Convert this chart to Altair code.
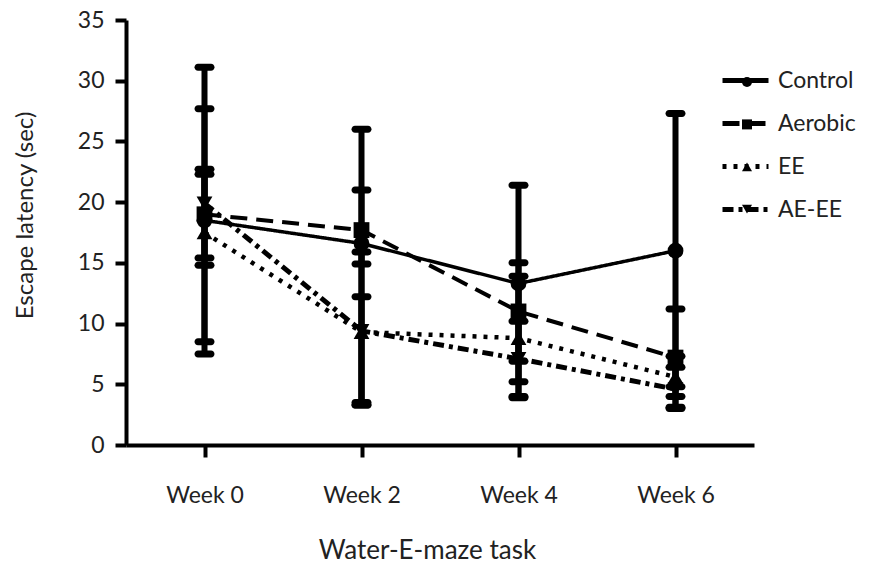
import altair as alt
import pandas as pd

weeks = ["Week 0", "Week 2", "Week 4", "Week 6"]
groups = ["Control", "Aerobic", "EE", "AE-EE"]

control_mean = [18.5, 16.6, 13.3, 16.0]
control_hi = [22.3, 26.0, 21.4, 27.3]
control_lo = [14.8, 3.5, 5.2, 4.8]

aerobic_mean = [19.0, 17.7, 11.0, 7.2]
aerobic_hi = [22.7, 21.0, 15.0, 11.2]
aerobic_lo = [15.4, 14.9, 6.9, 3.1]

ee_mean = [17.5, 9.3, 8.8, 5.6]
ee_hi = [27.7, 15.9, 13.9, 7.3]
ee_lo = [7.5, 3.3, 3.9, 4.0]

aeee_mean = [19.9, 9.4, 7.1, 4.6]
aeee_hi = [31.1, 12.2, 10.2, 6.4]
aeee_lo = [8.5, 3.3, 4.0, 3.0]

series = {
    "Control": (control_mean, control_hi, control_lo),
    "Aerobic": (aerobic_mean, aerobic_hi, aerobic_lo),
    "EE": (ee_mean, ee_hi, ee_lo),
    "AE-EE": (aeee_mean, aeee_hi, aeee_lo),
}

rows = []
for g in groups:
    m, hi, lo = series[g]
    for i, w in enumerate(weeks):
        rows.append({"week": w, "group": g, "g2": g, "mean": m[i], "hi": hi[i], "lo": lo[i]})
df = pd.DataFrame(rows)

FONT = "Lato"
FS = 23
TEXT = "#222222"

x_enc = alt.X(
    "week:N",
    sort=weeks,
    scale=alt.Scale(type="point", padding=0.5),
    axis=alt.Axis(
        title="Water-E-maze task",
        labelAngle=0,
        tickSize=12,
        tickWidth=4,
        domainWidth=4,
        labelPadding=27,
        titlePadding=30,
        titleX=301,
        titleFontSize=26,
    ),
)
y_scale = alt.Scale(domain=[0, 35], nice=False, zero=True)
y_axis = alt.Axis(
    title="Escape latency (sec)",
    values=[0, 5, 10, 15, 20, 25, 30, 35],
    tickSize=11,
    tickWidth=4,
    domainWidth=4,
    labelPadding=11,
    titlePadding=40,
    titleY=195,
    titleFontSize=24,
    grid=False,
)

base = alt.Chart(df)

bars = base.mark_rule(color="black", strokeWidth=6).encode(
    x=x_enc,
    y=alt.Y("lo:Q", scale=y_scale, axis=y_axis),
    y2="hi:Q",
)
caps_hi = base.mark_tick(color="black", size=20, thickness=7, cornerRadius=3.5, opacity=1).encode(
    x=alt.X("week:N", sort=weeks), y=alt.Y("hi:Q")
)
caps_lo = base.mark_tick(color="black", size=20, thickness=7, cornerRadius=3.5, opacity=1).encode(
    x=alt.X("week:N", sort=weeks), y=alt.Y("lo:Q")
)

lines = base.mark_line(color="black").encode(
    x=alt.X("week:N", sort=weeks),
    y=alt.Y("mean:Q"),
    strokeDash=alt.StrokeDash(
        "group:N",
        scale=alt.Scale(domain=groups, range=[[1, 0], [17, 9], [4, 7], [11, 5, 4, 5]]),
        legend=alt.Legend(
            title=None,
            orient="none",
            legendX=594,
            legendY=35,
            symbolType="stroke",
            symbolSize=2116,
            symbolStrokeWidth=5,
            symbolStrokeColor="black",
            labelFontSize=FS,
            labelFont=FONT,
            labelColor=TEXT,
            labelOffset=7,
            rowPadding=5,
        ),
    ),
    strokeWidth=alt.StrokeWidth(
        "group:N",
        scale=alt.Scale(domain=groups, range=[3.5, 5, 4, 4]),
        legend=None,
    ),
)

points = base.mark_point(filled=True, color="black", size=250, opacity=1).encode(
    x=alt.X("week:N", sort=weeks),
    y=alt.Y("mean:Q"),
    shape=alt.Shape(
        "g2:N",
        sort=groups,
        scale=alt.Scale(range=["circle", "square", "triangle-up", "triangle-down"]),
        legend=alt.Legend(
            title=None,
            orient="none",
            legendX=615,
            legendY=56,
            symbolSize=100,
            symbolFillColor="black",
            symbolStrokeColor="black",
            labelFontSize=1,
            labelFont=FONT,
            labelOpacity=0,
            labelOffset=0,
            rowPadding=26.4,
        ),
    ),
)

chart = (
    alt.layer(bars, caps_hi, caps_lo, lines, points)
    .resolve_legend(strokeDash="independent", shape="independent")
    .properties(
        width=628,
        height=425,
        autosize=alt.AutoSizeParams(type="none"),
        padding={"left": 118, "top": 12, "right": 115, "bottom": 118},
    )
    .configure_view(stroke=None)
    .configure_axis(
        labelFont=FONT,
        titleFont=FONT,
        labelFontSize=FS,
        titleFontSize=FS,
        labelColor=TEXT,
        titleColor=TEXT,
        titleFontWeight="normal",
        domainColor="black",
        tickColor="black",
    )
)

chart.save("out.html", embed_options={"renderer": "svg", "actions": False})
